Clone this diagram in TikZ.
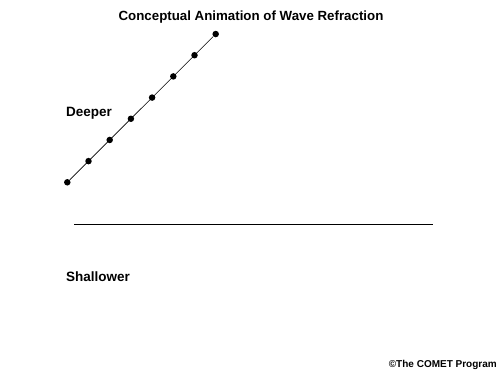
\documentclass[tikz,border=0pt]{standalone}
\usepackage{fontspec}
\setmainfont{Liberation Sans}
\tikzset{
  lbl/.style={font=\bfseries\fontsize{13.5}{15}\selectfont, inner sep=0pt},
  dot/.style={circle, fill=black, inner sep=0pt, minimum size=6.5pt},
}
\begin{document}
\begin{tikzpicture}[x=1pt,y=-1pt]
\useasboundingbox (0,0) rectangle (500,380);
\node[lbl, font=\bfseries\fontsize{13.3}{15}\selectfont] (title) at (251,17) {Conceptual Animation of Wave Refraction};
\node[lbl, anchor=west] (deep) at (66,113) {Deeper};
\node[lbl, anchor=west] (shallow) at (66,277) {Shallower};
\node[font=\bfseries\fontsize{10}{12}\selectfont, inner sep=0pt, anchor=east] (copy) at (497,365) {\textcopyright The COMET Program};
\coordinate (l1) at (74,224);
\coordinate (l2) at (433,224);
\draw[line width=0.8pt] (l1) -- (l2);
\foreach \i in {0,...,7} {
  \node[dot] (d\i) at ({67.3+21.2*\i},{182.3-21.18*\i}) {};
}
\draw[line width=0.6pt] (d0) -- (d7);
\end{tikzpicture}
\end{document}
